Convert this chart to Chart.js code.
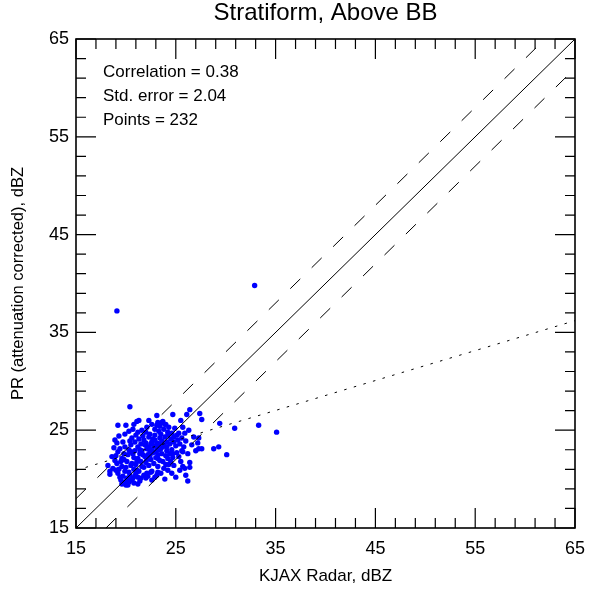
<!DOCTYPE html>
<html>
<head>
<meta charset="utf-8">
<script src="https://cdn.jsdelivr.net/npm/chart.js"></script>
<style>
  html, body { margin: 0; padding: 0; background: #fff; }
  #wrap { width: 590px; height: 591px; }
</style>
</head>
<body>
<div id="wrap"><canvas id="scatter"></canvas></div>
<script>
// [KJAX dBZ, PR dBZ] pairs
const matchedPairs = [
  [20.4,27.4],[35.1,24.8],[33.3,25.5],[30.9,25.2],[29.4,25.7],[27.6,26.1],[30.1,22.5],[29.3,23.3],[28.8,23.1],[27.6,23.1],
  [27.2,23.7],[26.4,27.1],[26.1,26.6],[25.5,26.0],[24.7,26.6],[23.1,26.5],[26.2,19.8],[26.4,21.7],[26.4,21.2],[25.9,21.1],
  [25.7,21.3],[26.2,22.6],[25.6,22.9],[25.1,22.7],[24.2,20.9],[24.3,21.5],[25.9,24.7],[25.3,24.7],[24.8,24.3],[24.1,23.3],
  [24.1,22.9],[18.2,21.4],[18.4,20.5],[19.2,25.5],[20.0,25.5],[20.8,25.6],[21.3,26.0],[22.3,26.0],[23.1,25.5],[23.6,25.8],
  [24.0,25.6],[22.0,20.1],[22.5,20.7],[23.1,20.4],[23.2,20.7],[19.7,19.6],[20.0,19.4],[19.6,19.5],[20.6,19.9],[21.5,20.1],
  [21.0,20.6],[21.1,25.9],[23.2,25.8],[23.7,25.9],[23.9,25.6],[23.4,25.4],[27.4,26.7],[24.9,25.2],[24.2,24.8],[25.1,24.5],
  [18.9,24.0],[19.1,23.7],[19.7,23.8],[19.9,23.3],[20.6,24.2],[20.9,23.8],[19.2,22.8],[18.6,22.3],[18.4,20.8],[19.1,21.6],
  [19.6,21.3],[19.9,20.8],[19.4,20.2],[19.9,19.7],[20.2,19.4],[21.2,20.2],[21.1,20.9],[21.6,21.3],[22.1,20.6],[22.6,20.8],
  [23.2,21.3],[23.2,22.1],[23.7,21.8],[24.2,22.1],[24.7,22.6],[25.7,22.8],[27.3,23.1],[27.3,24.2],[26.8,24.3],[22.6,23.8],
  [22.3,24.3],[22.9,24.5],[23.1,23.7],[23.4,24.2],[21.9,23.5],[21.4,23.0],[20.7,22.6],[20.2,22.5],[21.2,22.1],[21.7,22.5],
  [22.2,22.5],[22.6,23.0],[24.1,23.8],[23.7,23.3],[20.6,21.6],[21.1,21.8],[20.1,21.8],[19.6,22.1],[20.7,20.1],[20.4,19.9],
  [19.1,37.2],[32.9,39.8],
  [19.4,23.1],[19.8,22.6],[20.3,23.0],[20.5,23.5],[20.9,22.9],[21.0,24.5],[21.3,24.1],[21.5,23.6],[21.8,24.0],[22.0,24.8],
  [22.1,23.1],[22.4,22.9],[22.7,24.1],[22.8,23.4],[23.0,22.8],[23.3,23.0],[23.5,24.6],[23.6,22.6],[23.9,24.3],[24.0,22.4],
  [24.4,23.6],[24.5,24.1],[24.6,23.0],[24.8,23.8],[25.0,23.4],[25.2,24.0],[25.4,23.6],[25.6,24.2],[25.8,23.3],[26.0,23.9],
  [20.0,21.2],[20.3,20.7],[20.5,21.4],[20.8,21.0],[21.0,21.5],[21.3,20.8],[21.5,21.8],[21.8,21.2],[22.0,21.7],[22.3,21.4],
  [22.5,22.0],[22.8,21.6],[23.0,22.2],[23.4,21.9],[22.2,20.3],[22.9,20.2],[23.5,20.6],[23.8,21.1],[24.0,21.5],[24.5,21.8],
  [19.3,21.0],[19.5,21.8],[19.8,22.0],[19.0,22.4],[19.2,20.6],[18.9,21.9],[19.7,20.3],[20.1,20.1],[20.4,20.4],[20.9,20.3],
  [21.4,19.8],[21.8,20.4],[19.5,19.9],[20.3,19.7],[20.8,19.6],[19.9,24.6],[20.3,24.9],[20.7,25.1],[21.6,25.0],[22.1,25.3],
  [22.6,25.6],[22.9,25.1],[23.3,24.9],[23.8,25.1],[24.3,25.3],[24.6,24.7],[21.2,24.8],[22.4,24.6],[21.7,24.4],[20.4,23.9],
  [22.0,23.7],[22.3,23.3],[22.5,23.6],[22.7,22.7],[23.1,23.2],[23.3,23.6],[23.6,23.9],[23.8,23.5],[24.2,24.5],[22.9,24.0],
  [21.6,22.9],[21.9,22.3],[21.2,23.3],[20.8,22.2],[20.5,22.8],[21.4,22.6],[22.1,22.0],[22.4,22.4],[23.2,22.5],[23.5,23.1],
  [24.4,22.6],[24.7,22.2],[25.3,22.3],[25.5,21.8],[24.8,21.4],[24.6,20.6],[25.0,20.2],[25.4,20.9],[26.0,20.4],[23.9,20.0],
  [22.6,19.9],[21.2,19.5],[19.0,20.9],[18.7,21.1],[18.8,23.2],[19.3,24.4],[25.7,25.3],[26.3,25.0],[26.6,23.5],[27.0,22.9]
];

// reference lines: 1:1, +/- 3 dBZ and the fitted line
const oneToOneX = [15, 65];
const oneToOneY = [15, 65];
const upperX = [15, 62];
const upperY = [18, 65];
const lowerX = [18, 65];
const lowerY = [15, 62];
const fitX = [15, 65];
const fitY = [20.9, 36.2];

const statsLines = ['Correlation = 0.38', 'Std. error = 2.04', 'Points = 232'];

const toXY = (xs, ys) => xs.map((x, i) => ({ x: x, y: ys[i] }));

Chart.defaults.font.family = "'Liberation Sans', Arial, Helvetica, sans-serif";
Chart.defaults.color = '#000';

// frame, inward ticks (long at labelled values) and stats text
const framePlugin = {
  id: 'frame',
  afterDraw(chart) {
    const ctx = chart.ctx;
    const a = chart.chartArea;
    const xs = chart.scales.x, ys = chart.scales.y;
    ctx.save();
    ctx.strokeStyle = '#000';
    ctx.lineWidth = 1.2;
    ctx.beginPath();
    xs.ticks.forEach(t => {
      const px = xs.getPixelForValue(t.value);
      const len = (t.value - 15) % 10 === 0 ? 20 : 10;
      ctx.moveTo(px, a.bottom); ctx.lineTo(px, a.bottom - len);
      ctx.moveTo(px, a.top); ctx.lineTo(px, a.top + len);
    });
    ys.ticks.forEach(t => {
      const py = ys.getPixelForValue(t.value);
      const len = (t.value - 15) % 10 === 0 ? 20 : 10;
      ctx.moveTo(a.left, py); ctx.lineTo(a.left + len, py);
      ctx.moveTo(a.right, py); ctx.lineTo(a.right - len, py);
    });
    ctx.stroke();
    ctx.lineWidth = 1.6;
    ctx.strokeRect(a.left, a.top, a.right - a.left, a.bottom - a.top);

    ctx.fillStyle = '#000';
    ctx.font = "17px 'Liberation Sans', Arial, sans-serif";
    ctx.textBaseline = 'middle';
    ctx.textAlign = 'left';
    statsLines.forEach((s, i) => ctx.fillText(s, a.left + 27, a.top + 33 + i * 24));
    ctx.restore();
  }
};

const tickLabel = v => ((v - 15) % 10 === 0 ? String(v) : '');

new Chart(document.getElementById('scatter'), {
  type: 'scatter',
  data: {
    datasets: [
      { data: toXY(oneToOneX, oneToOneY), showLine: true, borderColor: '#000', borderWidth: 1, pointRadius: 0 },
      { data: toXY(upperX, upperY), showLine: true, borderColor: '#000', borderWidth: 1, borderDash: [14, 16], pointRadius: 0 },
      { data: toXY(lowerX, lowerY), showLine: true, borderColor: '#000', borderWidth: 1, borderDash: [14, 16], pointRadius: 0 },
      { data: toXY(fitX, fitY), showLine: true, borderColor: '#000', borderWidth: 1, borderDash: [2.5, 7.5], pointRadius: 0 },
      {
        data: matchedPairs.map(p => ({ x: p[0], y: p[1] })),
        backgroundColor: '#0000ff',
        borderWidth: 0,
        pointRadius: 2.7
      }
    ]
  },
  options: {
    responsive: true,
    maintainAspectRatio: false,
    animation: false,
    layout: { padding: { left: 0, right: 15, top: 0, bottom: 0 } },
    plugins: {
      legend: { display: false },
      tooltip: { enabled: false },
      title: {
        display: true,
        fullSize: false,
        text: 'Stratiform, Above BB',
        color: '#000',
        font: { size: 24, weight: 'normal', lineHeight: 1 },
        padding: { top: 1, bottom: 14 }
      }
    },
    scales: {
      x: {
        type: 'linear',
        min: 15,
        max: 65,
        afterFit: s => { s.height = 63; s.paddingLeft = 0; s.paddingRight = 0; },
        border: { display: false },
        grid: { display: false, drawTicks: false },
        ticks: { stepSize: 2, autoSkip: false, maxRotation: 0, padding: 10, font: { size: 18 }, callback: tickLabel },
        title: { display: true, text: 'KJAX Radar, dBZ', font: { size: 17 }, padding: { top: 0, bottom: 4 } }
      },
      y: {
        type: 'linear',
        min: 15,
        max: 65,
        afterFit: s => { s.width = 76; s.paddingTop = 0; s.paddingBottom = 0; },
        border: { display: false },
        grid: { display: false, drawTicks: false },
        ticks: { stepSize: 2, autoSkip: false, padding: 7, font: { size: 18 }, callback: tickLabel },
        title: { display: true, text: 'PR (attenuation corrected), dBZ', font: { size: 16.5 }, padding: { top: 9, bottom: 0 } }
      }
    }
  },
  plugins: [framePlugin]
});
</script>
</body>
</html>
